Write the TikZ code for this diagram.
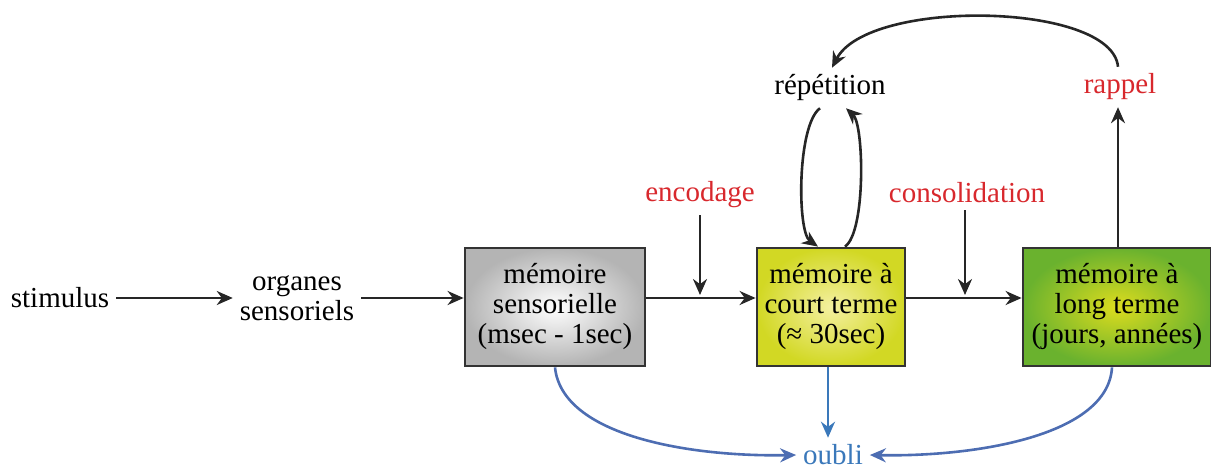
\documentclass[tikz,border=0pt]{standalone}
\usepackage{fontspec}
\setmainfont{Liberation Serif}
\usepackage{tikz}
\usetikzlibrary{arrows.meta, positioning, calc, shadings}
\definecolor{recallred}{HTML}{D8282D}
\definecolor{forgetblue}{HTML}{3A78BA}
\definecolor{forgetcurve}{HTML}{4D6DB2}
\definecolor{sensgray}{HTML}{B4B4B4}
\definecolor{shortyellow}{HTML}{D2D824}
\definecolor{shortcore}{HTML}{F4F0A0}
\definecolor{longgreen}{HTML}{6AB22E}
\definecolor{longcore}{HTML}{DCDC1E}

\tikzset{
  membox/.style={draw=black!80, line width=1.4pt, inner sep=0pt, align=center, minimum height=59pt},
  flow/.style={-{Stealth[length=8pt,width=7pt]}, line width=1.3pt, black!85},
  forget/.style={-{Stealth[length=8pt,width=7pt]}, line width=1.3pt, forgetcurve},
}

\begin{document}
\begin{tikzpicture}[x=0.5pt, y=-0.5pt, font=\fontsize{14.5}{15}\selectfont]
  \useasboundingbox (0,0) rectangle (1211,470);

  \node (stim) at (60,298) {stimulus};
  \node[align=center] (org) at (297,298) {organes\\sensoriels};
  \node[membox, minimum width=90pt, shading=radial, inner color=white, outer color=sensgray] (sens) at (555,307) {mémoire\\sensorielle\\(msec - 1sec)};
  \node[membox, minimum width=74pt, shading=radial, inner color=shortcore, outer color=shortyellow] (short) at (831,307) {mémoire à\\court terme\\(≈ 30sec)};
  \node[membox, minimum width=94pt, shading=radial, inner color=longcore, outer color=longgreen] (long) at (1117,307) {mémoire à\\long terme\\(jours, années)};

  \node[text=recallred] (enc) at (700,195) {encodage};
  \node[text=recallred] (cons) at (967,193) {consolidation};
  \node[text=recallred] (recall) at (1120,87) {rappel};
  \node (rep) at (830,88) {répétition};
  \node[text=forgetblue] (oubli) at (833,455) {oubli};

  \coordinate (encend) at (700,295);
  \coordinate (consend) at (965,295);

  % main chain
  \draw[flow] (stim) -- (org);
  \draw[flow] (org) -- (sens.west |- org);
  \draw[flow] (sens.east |- org) -- (short.west |- org);
  \draw[flow] (short.east |- org) -- (long.west |- org);
  \draw[flow] (enc) -- (encend);
  \draw[flow] ([xshift=-1pt]cons.south) -- (consend);

  % rehearsal and recall
  \draw[flow] ([xshift=-5pt]rep.south) .. controls (797,125) and (797,232) .. ([xshift=-6.5pt]short.north);
  \draw[flow] ([xshift=7pt]short.north) .. controls (866,232) and (864,125) .. ([xshift=8pt]rep.south);
  \draw[flow] ([xshift=0.5pt]long.north) -- ([xshift=0.5pt]long.north |- recall.south);
  \draw[flow] ([xshift=-1pt]recall.north) .. controls (1112,2) and (868,-2) .. ([xshift=1pt]rep.north);

  % forgetting
  \draw[forget, forgetblue] ([xshift=-1.5pt]short.south) -- ([xshift=-1.5pt]short.south |- oubli.north);
  \draw[forget] (sens.south) .. controls (562,436) and (690,457) .. (oubli.west);
  \draw[forget] ([xshift=-2.5pt]long.south) .. controls (1108,436) and (975,457) .. (oubli.east);
\end{tikzpicture}
\end{document}
